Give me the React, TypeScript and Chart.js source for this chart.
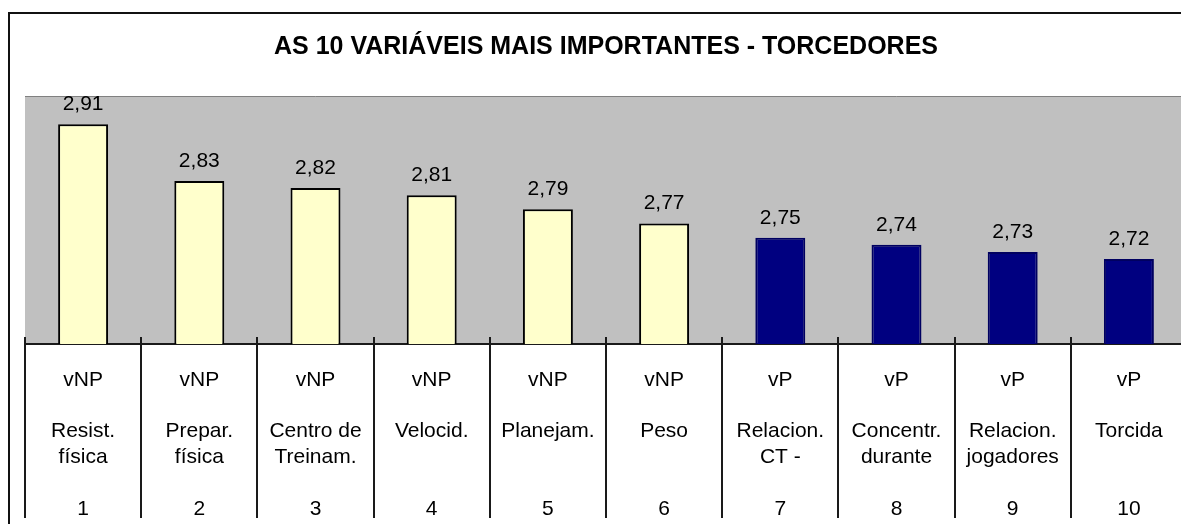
import React, { useEffect, useRef } from "react";
import { Chart, registerables } from "chart.js";

Chart.register(...registerables);

const TITLE = "AS 10 VARIÁVEIS MAIS IMPORTANTES - TORCEDORES";
const ranks = ["1", "2", "3", "4", "5", "6", "7", "8", "9", "10"];
const types = ["vNP", "vNP", "vNP", "vNP", "vNP", "vNP", "vP", "vP", "vP", "vP"];
const nameLine1 = ["Resist.", "Prepar.", "Centro de", "Velocid.", "Planejam.", "Peso", "Relacion.", "Concentr.", "Relacion.", "Torcida"];
const nameLine2 = ["física", "física", "Treinam.", "", "", "", "CT -", "durante", "jogadores", ""];
const values = [2.91, 2.83, 2.82, 2.81, 2.79, 2.77, 2.75, 2.74, 2.73, 2.72];
const Y_MIN = 2.6;
const Y_MAX = 2.95;

const FONT = "'Liberation Sans', Arial, sans-serif";

const plotBg = {
  id: "plotBg",
  beforeDraw(chart: any) {
    const { ctx, chartArea } = chart;
    ctx.save();
    ctx.fillStyle = "#C0C0C0";
    ctx.fillRect(chartArea.left, chartArea.top, chartArea.right - chartArea.left, chartArea.bottom - chartArea.top);
    ctx.strokeStyle = "#808080";
    ctx.lineWidth = 1;
    ctx.beginPath();
    ctx.moveTo(chartArea.left, chartArea.top + 0.5);
    ctx.lineTo(chartArea.right, chartArea.top + 0.5);
    ctx.stroke();
    ctx.restore();
  },
  afterDatasetsDraw(chart: any) {
    const { ctx, chartArea } = chart;
    const xs = chart.scales.x;
    ctx.save();
    ctx.strokeStyle = "#1a1a1a";
    ctx.lineWidth = 2;
    // small tick stubs above the axis
    for (let i = 0; i <= ranks.length; i++) {
      const x = Math.round(xs.getPixelForValue(i - 0.5));
      ctx.beginPath();
      ctx.moveTo(x, chartArea.bottom - 7);
      ctx.lineTo(x, chartArea.bottom);
      ctx.stroke();
    }
    // right edge of the plot area
    const xr = Math.round(xs.getPixelForValue(ranks.length - 0.5)) - 1;
    ctx.beginPath();
    ctx.moveTo(xr, chartArea.top);
    ctx.lineTo(xr, chartArea.bottom + 174);
    ctx.stroke();
    // value labels
    const meta = chart.getDatasetMeta(0);
    ctx.fillStyle = "#000";
    ctx.font = `21px ${FONT}`;
    ctx.textAlign = "center";
    ctx.textBaseline = "middle";
    meta.data.forEach((bar: any, i: number) => {
      const txt = values[i].toFixed(2).replace(".", ",");
      ctx.fillText(txt, bar.x, bar.y - 20);
    });
    ctx.restore();
  },
};

export default function App() {
  const ref = useRef<HTMLCanvasElement | null>(null);
  useEffect(() => {
    if (!ref.current) return;
    const labels = ranks.map((r, i) => [types[i], "", nameLine1[i], nameLine2[i], "", r]);
    const chart = new Chart(ref.current, {
      type: "bar",
      data: {
        labels,
        datasets: [
          {
            data: values,
            backgroundColor: types.map((t) => (t === "vNP" ? "#FFFFCC" : "#000080")),
            borderColor: types.map((t) => (t === "vNP" ? "#000" : "#000060")),
            borderWidth: 2,
            categoryPercentage: 1,
            barPercentage: 0.43,
          },
        ],
      },
      options: {
        responsive: false,
        animation: false,
        layout: { padding: { left: 17, right: 2, top: 0, bottom: 14 } },
        plugins: {
          legend: { display: false },
          tooltip: { enabled: false },
          title: {
            display: true,
            text: TITLE,
            color: "#000",
            font: { family: FONT, size: 25, weight: "bold" },
            padding: { top: 24, bottom: 34 },
          },
        },
        scales: {
          x: {
            offset: true,
            grid: {
              offset: true,
              drawOnChartArea: false,
              drawTicks: true,
              tickLength: 174,
              color: "#1a1a1a",
              lineWidth: 2,
            },
            border: { display: true, color: "#1a1a1a", width: 2 },
            ticks: {
              autoSkip: false,
              maxRotation: 0,
              minRotation: 0,
              padding: -151,
              color: "#000",
              font: { family: FONT, size: 21, lineHeight: 1.23 },
            },
            afterFit: (s: any) => {
              s.height = 174;
            },
          },
          y: {
            display: false,
            min: Y_MIN,
            max: Y_MAX,
          },
        },
      },
      plugins: [plotBg],
    });
    return () => chart.destroy();
  }, []);

  return (
    <div style={{ position: "relative", width: 1181, height: 524, overflow: "hidden", marginBottom: -8 }}>
      <div
        style={{
          position: "absolute",
          left: 0,
          top: 4,
          width: 1400,
          height: 800,
          borderTop: "2px solid #111",
          borderLeft: "2px solid #111",
        }}
      />
      <canvas ref={ref} width={1181} height={524} style={{ position: "absolute", left: 0, top: 0 }} />
    </div>
  );
}
